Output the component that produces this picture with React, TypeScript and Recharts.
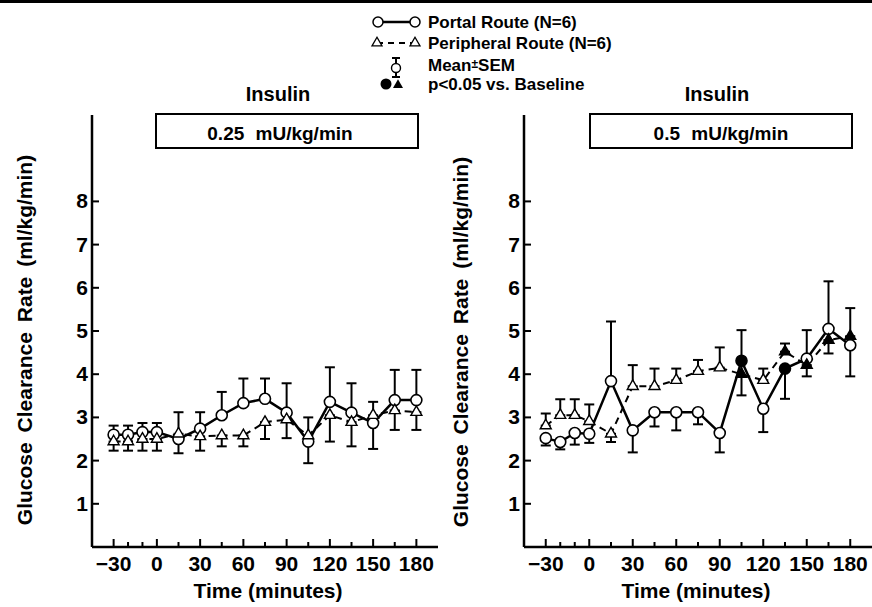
import React from "react";
import { ErrorBar, Line, LineChart, XAxis, YAxis } from "recharts";

// time points (minutes)
const times = [-30, -20, -10, 0, 15, 30, 45, 60, 75, 90, 105, 120, 135, 150, 165, 180];
const rateTicks = [1, 2, 3, 4, 5, 6, 7, 8];

// 0.25 mU/kg/min panel
const portal025 = [2.6, 2.6, 2.66, 2.66, 2.5, 2.74, 3.05, 3.33, 3.43, 3.11, 2.44, 3.36, 3.11, 2.87, 3.4, 3.4];
const portal025Lo = [0, 0, 0, 0, 0, 0, 0, 0, 0, 0, 0.5, 0, 0, 0.6, 0, 0];
const portal025Hi = [0.21, 0.21, 0.21, 0.21, 0.62, 0.38, 0.54, 0.57, 0.47, 0.68, 0, 0.8, 0.68, 0, 0.7, 0.7];
const periph025 = [2.44, 2.44, 2.5, 2.5, 2.62, 2.56, 2.58, 2.58, 2.89, 2.95, 2.58, 3.05, 2.89, 3.05, 3.16, 3.12];
const periph025Lo = [0.21, 0.21, 0.27, 0.27, 0.45, 0.33, 0.25, 0.25, 0.39, 0.43, 0, 0.61, 0.56, 0, 0.45, 0.41];
const periph025Hi = [0, 0, 0, 0, 0, 0, 0, 0, 0, 0, 0.42, 0, 0, 0.31, 0, 0];

// 0.5 mU/kg/min panel
const portal05 = [2.52, 2.43, 2.64, 2.62, 3.84, 2.7, 3.12, 3.12, 3.12, 2.64, 4.31, 3.2, 4.13, 4.36, 5.05, 4.67];
const portal05Lo = [0.17, 0.17, 0.27, 0.21, 0, 0.51, 0.33, 0.42, 0.28, 0.45, 0.8, 0.54, 0.7, 0, 0, 0.72];
const portal05Hi = [0, 0, 0, 0, 1.38, 0, 0, 0, 0, 0, 0.71, 0, 0, 0.66, 1.1, 0];
const periph05 = [2.81, 3.05, 3.05, 2.91, 2.62, 3.72, 3.72, 3.86, 4.07, 4.15, 4.0, 3.86, 4.52, 4.21, 4.79, 4.88];
const periph05Lo = [0, 0, 0, 0, 0.19, 0, 0, 0, 0, 0, 0, 0, 0, 0.26, 0.31, 0];
const periph05Hi = [0.28, 0.37, 0.37, 0.39, 0, 0.49, 0.41, 0.27, 0.26, 0.47, 0, 0.27, 0.19, 0, 0, 0.65];

// p<0.05 vs. baseline
const portal025Sig: number[] = [];
const periph025Sig: number[] = [];
const portal05Sig = [105, 135];
const periph05Sig = [105, 135, 150, 165, 180];

const FONT = "'Liberation Sans', Arial, Helvetica, sans-serif";

function errPair(lo: number, hi: number) {
  return lo || hi ? [lo, hi] : null;
}

function buildRows(
  p: number[], pLo: number[], pHi: number[],
  q: number[], qLo: number[], qHi: number[],
  pSig: number[], qSig: number[]
) {
  return times.map((t, i) => ({
    t,
    portal: p[i],
    portalErr: errPair(pLo[i], pHi[i]),
    portalSig: pSig.includes(t),
    periph: q[i],
    periphErr: errPair(qLo[i], qHi[i]),
    periphSig: qSig.includes(t),
  }));
}

const rows025 = buildRows(portal025, portal025Lo, portal025Hi, periph025, periph025Lo, periph025Hi, portal025Sig, periph025Sig);
const rows05 = buildRows(portal05, portal05Lo, portal05Hi, periph05, periph05Lo, periph05Hi, portal05Sig, periph05Sig);

function trianglePath(cx: number, cy: number, s: number) {
  const h = s * 0.866;
  return `M${cx},${cy - (2 * h) / 3}L${cx + s / 2},${cy + h / 3}L${cx - s / 2},${cy + h / 3}Z`;
}

const CircleDot = (props: any) => {
  const { cx, cy, payload } = props;
  if (cx == null || cy == null) return <g />;
  return (
    <circle cx={cx} cy={cy} r={5.5} fill={payload.portalSig ? "#000" : "#fff"} stroke="#000" strokeWidth={1.6} />
  );
};

const TriangleDot = (props: any) => {
  const { cx, cy, payload } = props;
  if (cx == null || cy == null) return <g />;
  return (
    <path d={trianglePath(cx, cy, 11)} fill={payload.periphSig ? "#000" : "#fff"} stroke="#000" strokeWidth={1.4} />
  );
};

const TimeTick = (props: any) => {
  const { x, y, payload } = props;
  const v = payload.value as number;
  const major = v % 30 === 0;
  return (
    <g>
      <line x1={x} x2={x} y1={y} y2={y - (major ? 8 : 5)} stroke="#000" strokeWidth={2} />
      {major && (
        <text x={x} y={y + 24} textAnchor="middle" fontSize={21} fontWeight="bold" fontFamily={FONT} fill="#000">
          {v < 0 ? `\u2212${-v}` : v}
        </text>
      )}
    </g>
  );
};

const RateTick = (props: any) => {
  const { x, y, payload } = props;
  return (
    <g>
      <line x1={x} x2={x + 7} y1={y} y2={y} stroke="#000" strokeWidth={2} />
      <text x={x - 4} y={y + 7} textAnchor="end" fontSize={21} fontWeight="bold" fontFamily={FONT} fill="#000">
        {payload.value}
      </text>
    </g>
  );
};

function Panel({ data, width, left, yWidth, right }: { data: any[]; width: number; left: number; yWidth: number; right: number }) {
  return (
    <div style={{ position: "absolute", left, top: 0 }}>
      <LineChart width={width} height={607} data={data} margin={{ top: 115, right, bottom: 0, left: 0 }}>
        <XAxis
          dataKey="t"
          type="number"
          domain={[-45, 195]}
          ticks={times}
          interval={0}
          tick={<TimeTick />}
          tickLine={false}
          tickSize={0}
          tickMargin={0}
          height={60}
          axisLine={{ stroke: "#000", strokeWidth: 2.5 }}
        />
        <YAxis
          type="number"
          domain={[0, 10]}
          ticks={rateTicks}
          interval={0}
          allowDataOverflow
          tick={<RateTick />}
          tickLine={false}
          tickSize={0}
          tickMargin={0}
          width={yWidth}
          axisLine={{ stroke: "#000", strokeWidth: 2.5 }}
        />
        <Line
          dataKey="portal"
          stroke="#000"
          strokeWidth={2.5}
          dot={CircleDot}
          activeDot={false}
          isAnimationActive={false}
        >
          <ErrorBar dataKey="portalErr" direction="y" width={5} stroke="#000" strokeWidth={2} />
        </Line>
        <Line
          dataKey="periph"
          stroke="#000"
          strokeWidth={2}
          strokeDasharray="7 5"
          dot={TriangleDot}
          activeDot={false}
          isAnimationActive={false}
        >
          <ErrorBar dataKey="periphErr" direction="y" width={5} stroke="#000" strokeWidth={2} />
        </Line>
      </LineChart>
    </div>
  );
}

export default function App() {
  const txt = { fontFamily: FONT, fontWeight: "bold" as const, fill: "#000" };
  return (
    <div style={{ position: "absolute", left: 0, top: 0, width: 872, height: 607, background: "#fff", overflow: "hidden" }}>
      <Panel data={rows025} width={440} left={0} yWidth={92} right={2} />
      <Panel data={rows05} width={432} left={440} yWidth={84} right={0} />
      <svg width={872} height={607} style={{ position: "absolute", left: 0, top: 0, pointerEvents: "none" }}>
        <rect x={0} y={0} width={872} height={3} fill="#000" />

        {/* legend */}
        <line x1={378} x2={415} y1={22} y2={22} stroke="#000" strokeWidth={2.5} />
        <circle cx={378} cy={22} r={5} fill="#fff" stroke="#000" strokeWidth={1.5} />
        <circle cx={415} cy={22} r={5} fill="#fff" stroke="#000" strokeWidth={1.5} />
        <text x={428} y={28} fontSize={17} {...txt}>Portal Route (N=6)</text>

        <line x1={377} x2={415} y1={43} y2={43} stroke="#000" strokeWidth={2} strokeDasharray="6 5" />
        <path d={trianglePath(377, 43, 10)} fill="#fff" stroke="#000" strokeWidth={1.3} />
        <path d={trianglePath(415, 43, 10)} fill="#fff" stroke="#000" strokeWidth={1.3} />
        <text x={428} y={49} fontSize={17} {...txt}>Peripheral Route (N=6)</text>

        <line x1={396} x2={396} y1={58} y2={77} stroke="#000" strokeWidth={2} />
        <line x1={392} x2={400} y1={58} y2={58} stroke="#000" strokeWidth={2} />
        <line x1={392} x2={400} y1={77} y2={77} stroke="#000" strokeWidth={2} />
        <circle cx={396} cy={68} r={4.5} fill="#fff" stroke="#000" strokeWidth={1.4} />
        <text x={428} y={71} fontSize={17} {...txt}>
          Mean<tspan fontSize={12} dy={-3}>±</tspan><tspan dy={3}>SEM</tspan>
        </text>

        <circle cx={386} cy={84} r={5.5} fill="#000" />
        <path d={trianglePath(398, 85, 10)} fill="#000" />
        <text x={428} y={90} fontSize={17} {...txt}>p&lt;0.05 vs. Baseline</text>

        {/* panel titles */}
        <text x={278} y={101} textAnchor="middle" fontSize={20} {...txt}>Insulin</text>
        <text x={717} y={101} textAnchor="middle" fontSize={20} {...txt}>Insulin</text>
        <rect x={156} y={114} width={262} height={34} fill="#fff" stroke="#000" strokeWidth={2} />
        <rect x={590} y={114} width={262} height={34} fill="#fff" stroke="#000" strokeWidth={2} />
        <text x={280} y={140} textAnchor="middle" fontSize={19} wordSpacing={6} {...txt}>0.25 mU/kg/min</text>
        <text x={721} y={140} textAnchor="middle" fontSize={19} wordSpacing={6} {...txt}>0.5 mU/kg/min</text>

        {/* axis titles */}
        <text transform="translate(32,340) rotate(-90)" textAnchor="middle" fontSize={21} wordSpacing={4} {...txt}>
          Glucose Clearance Rate (ml/kg/min)
        </text>
        <text transform="translate(468,342) rotate(-90)" textAnchor="middle" fontSize={21} wordSpacing={4} {...txt}>
          Glucose Clearance Rate (ml/kg/min)
        </text>
        <text x={268} y={598} textAnchor="middle" fontSize={21} {...txt}>Time (minutes)</text>
        <text x={696} y={598} textAnchor="middle" fontSize={21} {...txt}>Time (minutes)</text>
      </svg>
    </div>
  );
}
